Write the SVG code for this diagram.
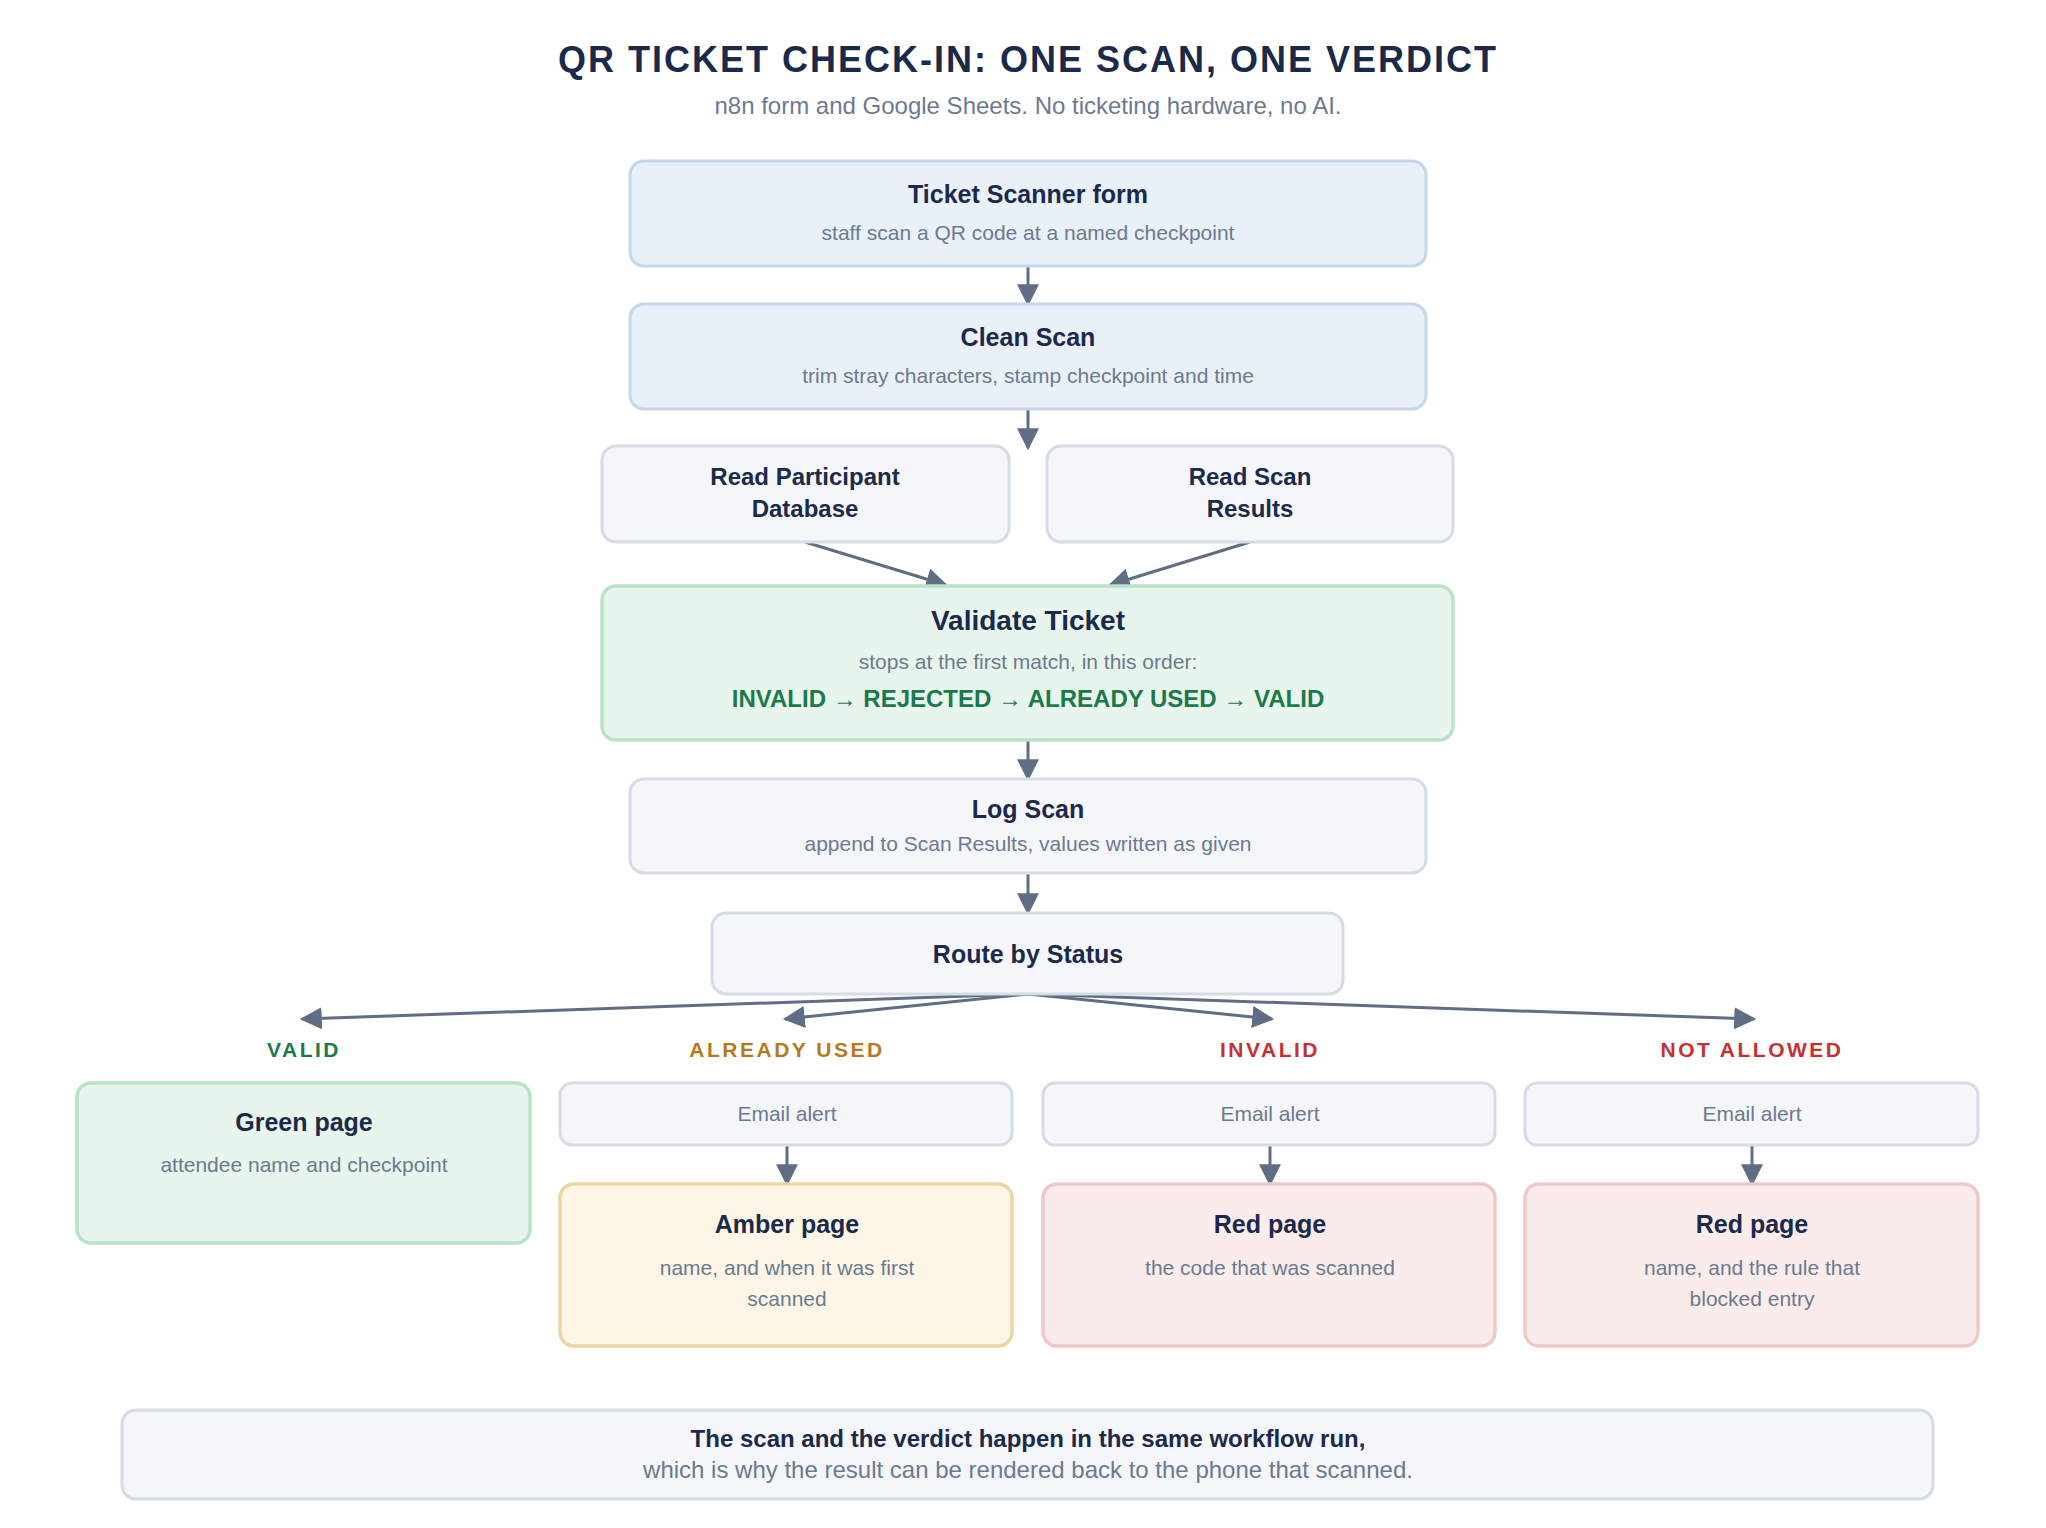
<svg xmlns="http://www.w3.org/2000/svg" width="2046" height="1528" viewBox="0 0 2046 1528">
<style>
text{font-family:"Liberation Sans",Arial,sans-serif;text-anchor:middle}
.t{font-size:36px;font-weight:bold;fill:#1b2a4a;letter-spacing:2px}
.st{font-size:24px;fill:#6b7a90}
.h{font-size:28px;font-weight:bold;fill:#1b2a4a}
.h2{font-size:25px;font-weight:bold;fill:#1b2a4a}
.s{font-size:21px;fill:#6b7a90}
.rb{font-size:24px;font-weight:bold;fill:#1b2a4a}
.n{fill:#f4f6fa;stroke:#d5dce6;stroke-width:3}
.b{fill:#e9f0f8;stroke:#c3d6ec;stroke-width:3}
.g{fill:#e8f5ec;stroke:#b9e2c8;stroke-width:3.5}
.a{fill:#fdf5e6;stroke:#ebd6a4;stroke-width:3.5}
.r{fill:#fbecec;stroke:#efc9c9;stroke-width:3.5}
.lbl{font-size:21px;font-weight:bold;letter-spacing:2.5px}
.c line{stroke:#5f6e85;stroke-width:3;marker-end:url(#ah)}
</style>
<defs><marker id="ah" viewBox="0 0 10 10" refX="9" refY="5" markerWidth="22" markerHeight="22" markerUnits="userSpaceOnUse" orient="auto"><path d="M0,0 L10,5 L0,10 z" fill="#5f6e85"/></marker></defs>
<rect width="2046" height="1528" fill="#fff"/>
<text x="1028" y="72" class="t">QR TICKET CHECK-IN: ONE SCAN, ONE VERDICT</text>
<text x="1028" y="114" class="st">n8n form and Google Sheets. No ticketing hardware, no AI.</text>
<g class="c">
<line x1="1028" y1="266" x2="1028" y2="304"/>
<line x1="1028" y1="409" x2="1028" y2="448"/>
<line x1="805" y1="542" x2="946" y2="585"/>
<line x1="1250" y1="542" x2="1110" y2="585"/>
<line x1="1028" y1="740" x2="1028" y2="779"/>
<line x1="1028" y1="873" x2="1028" y2="913"/>
<line x1="1028" y1="994" x2="302" y2="1019"/>
<line x1="1028" y1="994" x2="785" y2="1019"/>
<line x1="1028" y1="994" x2="1272" y2="1019"/>
<line x1="1028" y1="994" x2="1754" y2="1019"/>
<line x1="787" y1="1145" x2="787" y2="1184"/>
<line x1="1270" y1="1145" x2="1270" y2="1184"/>
<line x1="1752" y1="1145" x2="1752" y2="1184"/>
</g>
<g id="scanner-form"><rect class="b" x="630" y="161" width="796" height="105" rx="14"/><text x="1028" y="203" class="h2">Ticket Scanner form</text><text x="1028" y="240" class="s">staff scan a QR code at a named checkpoint</text></g>
<g id="clean-scan"><rect class="b" x="630" y="304" width="796" height="105" rx="14"/><text x="1028" y="346" class="h2">Clean Scan</text><text x="1028" y="383" class="s">trim stray characters, stamp checkpoint and time</text></g>
<g id="read-participant"><rect class="n" x="602" y="446" width="407" height="96" rx="14"/><text x="805" y="485" class="rb">Read Participant</text><text x="805" y="517" class="rb">Database</text></g>
<g id="read-scan"><rect class="n" x="1047" y="446" width="406" height="96" rx="14"/><text x="1250" y="485" class="rb">Read Scan</text><text x="1250" y="517" class="rb">Results</text></g>
<g id="validate"><rect class="g" x="602" y="586" width="851" height="154" rx="14"/><text x="1028" y="630" class="h">Validate Ticket</text><text x="1028" y="669" class="s">stops at the first match, in this order:</text><text x="1028" y="707" style="font-size:24px;font-weight:bold;fill:#1a7a4a">INVALID → REJECTED → ALREADY USED → VALID</text></g>
<g id="log-scan"><rect class="n" x="630" y="779" width="796" height="94" rx="14"/><text x="1028" y="818" class="h2">Log Scan</text><text x="1028" y="851" class="s">append to Scan Results, values written as given</text></g>
<g id="route"><rect class="n" x="712" y="913" width="631" height="81" rx="14"/><text x="1028" y="963" class="h2">Route by Status</text></g>
<g id="labels">
<text x="304" y="1057" class="lbl" fill="#1a7a4a">VALID</text>
<text x="787" y="1057" class="lbl" fill="#b7791f">ALREADY USED</text>
<text x="1270" y="1057" class="lbl" fill="#c53030">INVALID</text>
<text x="1752" y="1057" class="lbl" fill="#c53030">NOT ALLOWED</text>
</g>
<g id="green-page"><rect class="g" x="77" y="1083" width="453" height="160" rx="14"/><text x="304" y="1131" class="h2">Green page</text><text x="304" y="1172" class="s">attendee name and checkpoint</text></g>
<g id="email-1"><rect class="n" x="560" y="1083" width="452" height="62" rx="12"/><text x="787" y="1121" class="s">Email alert</text></g>
<g id="email-2"><rect class="n" x="1043" y="1083" width="452" height="62" rx="12"/><text x="1270" y="1121" class="s">Email alert</text></g>
<g id="email-3"><rect class="n" x="1525" y="1083" width="453" height="62" rx="12"/><text x="1752" y="1121" class="s">Email alert</text></g>
<g id="amber-page"><rect class="a" x="560" y="1184" width="452" height="162" rx="14"/><text x="787" y="1233" class="h2">Amber page</text><text x="787" y="1275" class="s">name, and when it was first</text><text x="787" y="1306" class="s">scanned</text></g>
<g id="red-page-1"><rect class="r" x="1043" y="1184" width="452" height="162" rx="14"/><text x="1270" y="1233" class="h2">Red page</text><text x="1270" y="1275" class="s">the code that was scanned</text></g>
<g id="red-page-2"><rect class="r" x="1525" y="1184" width="453" height="162" rx="14"/><text x="1752" y="1233" class="h2">Red page</text><text x="1752" y="1275" class="s">name, and the rule that</text><text x="1752" y="1306" class="s">blocked entry</text></g>
<g id="footer"><rect class="n" x="122" y="1410" width="1811" height="89" rx="14"/><text x="1028" y="1447" style="font-size:24px;font-weight:bold;fill:#1b2a4a">The scan and the verdict happen in the same workflow run,</text><text x="1028" y="1478" class="st">which is why the result can be rendered back to the phone that scanned.</text></g>
</svg>
